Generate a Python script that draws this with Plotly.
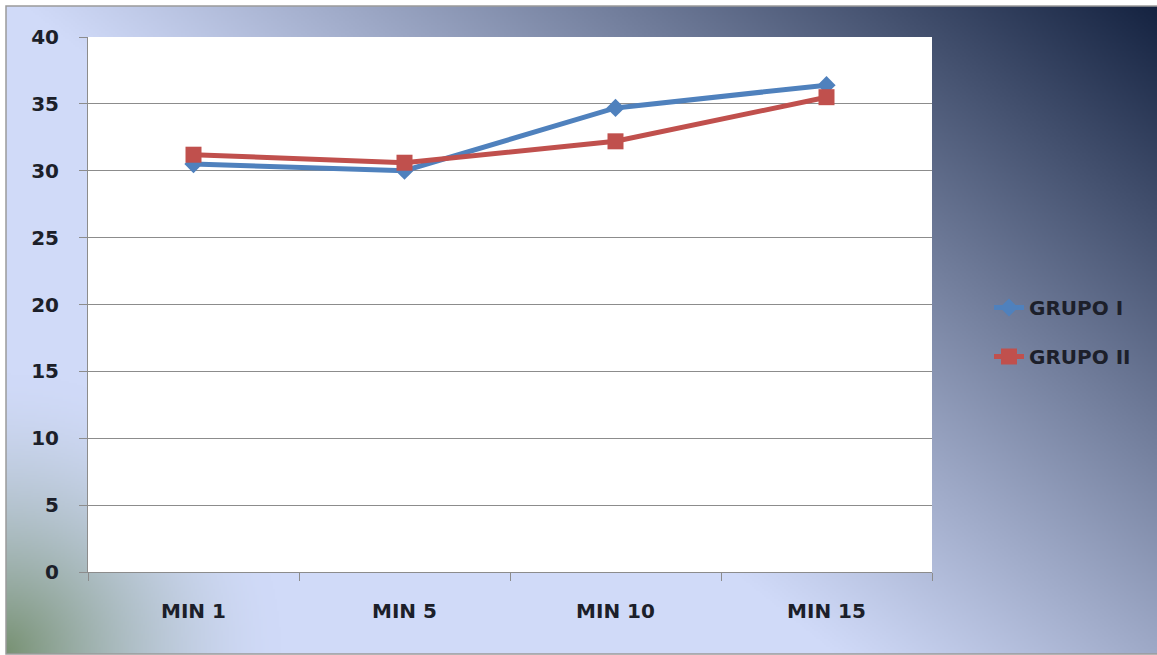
import base64
import struct
import zlib

import numpy as np
import plotly.graph_objects as go

# ---- data -------------------------------------------------------------
categories = ["MIN 1", "MIN 5", "MIN 10", "MIN 15"]
grupo_i = [30.5, 30.0, 34.7, 36.4]
grupo_ii = [31.2, 30.6, 32.2, 35.5]
y_ticks = [0, 5, 10, 15, 20, 25, 30, 35, 40]

BLUE = "#4F81BD"
RED = "#C0504D"
TEXT = "#1c1f2a"
GRID = "#8c8c8c"

W, H = 1157, 655
# plot area in pixels
PL, PR, PT, PB = 88, 932, 37, 572


def png_uri(rgb):
    h, w, _ = rgb.shape
    raw = b"".join(b"\x00" + rgb[i].tobytes() for i in range(h))

    def chunk(tag, data):
        return (struct.pack(">I", len(data)) + tag + data
                + struct.pack(">I", zlib.crc32(tag + data) & 0xFFFFFFFF))

    png = (b"\x89PNG\r\n\x1a\n"
           + chunk(b"IHDR", struct.pack(">IIBBBBB", w, h, 8, 2, 0, 0, 0))
           + chunk(b"IDAT", zlib.compress(raw, 9))
           + chunk(b"IEND", b""))
    return "data:image/png;base64," + base64.b64encode(png).decode()


# ---- slide-style background: light lavender, navy in the top-right,
# ---- grey-green in the bottom-left corner
BX0, BY0, BX1, BY1 = 6, 6, W, 654
gw, gh = (BX1 - BX0) // 2, (BY1 - BY0) // 2
xs = np.linspace(BX0, BX1, gw)[None, :]
ys = np.linspace(BY0, BY1, gh)[:, None]
light = np.array([208, 218, 248], float)
dark = np.array([20, 34, 64], float)
green = np.array([118, 144, 112], float)
s = ((W - xs) * 0.88 + ys * 1.1) / 1000.0
f = np.clip(1 - s, 0, 1) ** 1.05
img = light * (1 - f[..., None]) + dark * f[..., None]
d = np.sqrt(xs ** 2 + (H - ys) ** 2)
g = np.clip(1 - d / 280.0, 0, 1) ** 1.6
img = img * (1 - g[..., None]) + green * g[..., None]
bg_uri = png_uri(np.clip(img, 0, 255).astype(np.uint8))


def px_x(p):
    return (p - PL) / (PR - PL)


def px_y(p):
    return (PB - p) / (PB - PT)


fig = go.Figure()
fig.add_trace(go.Scatter(
    x=categories, y=grupo_i, name="GRUPO I", mode="lines+markers",
    legendgroup="g1",
    line=dict(color=BLUE, width=5),
    marker=dict(symbol="diamond", size=14, color=BLUE),
))
fig.add_trace(go.Scatter(
    x=categories, y=grupo_ii, name="GRUPO II", mode="lines+markers",
    legendgroup="g2",
    line=dict(color=RED, width=5),
    marker=dict(symbol="square", size=16, color=RED),
))

fig.add_layout_image(dict(
    source=bg_uri, xref="paper", yref="paper",
    x=px_x(BX0), y=px_y(BY0),
    sizex=(BX1 - BX0) / (PR - PL), sizey=(BY1 - BY0) / (PB - PT),
    xanchor="left", yanchor="top", sizing="stretch", layer="below",
))
# frame around the slide background
fig.add_shape(type="rect", xref="paper", yref="paper",
              x0=px_x(BX0), x1=px_x(BX1 + 5), y0=px_y(BY1), y1=px_y(BY0),
              line=dict(color="#9a9a9a", width=1.5), layer="below")
# white plot area
fig.add_shape(type="rect", xref="paper", yref="paper",
              x0=0, x1=1, y0=0, y1=1, fillcolor="white",
              line=dict(width=0), layer="below")

label_font = dict(family="DejaVu Sans", size=20, color=TEXT, weight="bold")

fig.update_layout(
    width=W, height=H,
    margin=dict(l=PL, r=W - PR, t=PT, b=H - PB, pad=0),
    paper_bgcolor="white",
    plot_bgcolor="white",
    font=dict(family="DejaVu Sans", size=20, color=TEXT),
    showlegend=True,
    legend=dict(
        x=px_x(989), y=px_y(288), xanchor="left", yanchor="top",
        bgcolor="rgba(0,0,0,0)", borderwidth=0,
        font=label_font,
        tracegroupgap=20, itemwidth=30,
    ),
    xaxis=dict(
        type="category", range=[-0.5, 3.5],
        showgrid=False, showline=True, linecolor=GRID, linewidth=1,
        ticks="outside", ticklen=8, tickcolor=GRID, tickson="boundaries",
        ticklabelstandoff=21,
        tickfont=label_font,
        fixedrange=True,
    ),
    yaxis=dict(
        range=[0, 40], tickmode="array", tickvals=y_ticks,
        showgrid=True, gridcolor=GRID, gridwidth=1,
        showline=True, linecolor=GRID, linewidth=1,
        ticks="outside", ticklen=8, tickcolor=GRID,
        ticklabelstandoff=16, zeroline=False,
        tickfont=label_font,
        fixedrange=True,
    ),
)

fig.write_html("out.html", config={"displayModeBar": False})
